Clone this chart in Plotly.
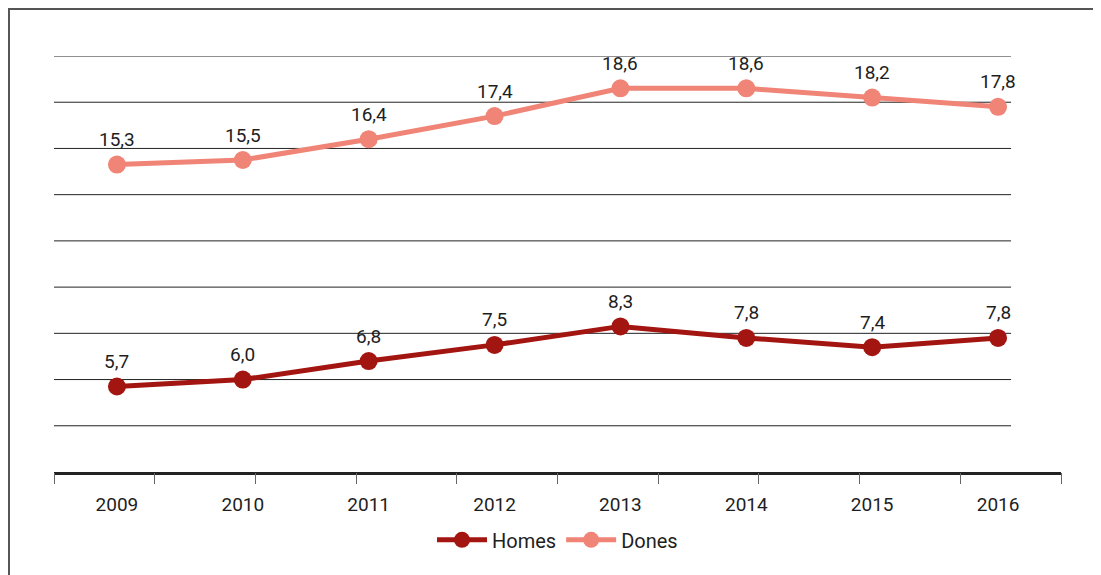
import plotly.graph_objects as go

years = ["2009", "2010", "2011", "2012", "2013", "2014", "2015", "2016"]
homes = [5.7, 6.0, 6.8, 7.5, 8.3, 7.8, 7.4, 7.8]
dones = [15.3, 15.5, 16.4, 17.4, 18.6, 18.6, 18.2, 17.8]
grid_values = [4, 6, 8, 10, 12, 14, 16, 18, 20]
tick_positions = list(range(11))  # evenly spaced axis tick marks (10 intervals)

c_homes = "#A31511"
c_dones = "#F08476"
font_family = "Roboto, 'DejaVu Sans', sans-serif"

fig = go.Figure()
fig.add_trace(go.Scatter(x=years, y=homes, name="Homes", mode="lines+markers",
                         line=dict(color=c_homes, width=5),
                         marker=dict(color=c_homes, size=18), cliponaxis=False))
fig.add_trace(go.Scatter(x=years, y=dones, name="Dones", mode="lines+markers",
                         line=dict(color=c_dones, width=5),
                         marker=dict(color=c_dones, size=18), cliponaxis=False))
# invisible helper trace so the tick-mark axis is rendered
fig.add_trace(go.Scatter(x=[tick_positions[0], tick_positions[-1]], y=[None, None],
                         xaxis="x2", yaxis="y", mode="markers", showlegend=False,
                         hoverinfo="skip", marker=dict(opacity=0)))

annotations = []
for series in (homes, dones):
    for i, v in enumerate(series):
        annotations.append(dict(x=i, y=v, xref="x", yref="y",
                                text=f"{v:.1f}".replace(".", ","),
                                showarrow=False, yshift=25,
                                font=dict(size=19, color="#1e1e1e", family=font_family)))

shapes = []
for g in grid_values:
    shapes.append(dict(type="line", xref="x domain", yref="y", x0=0, x1=0.9504,
                       y0=g, y1=g, line=dict(color="#222222", width=1), layer="below"))
# outer frame
shapes.append(dict(type="rect", xref="paper", yref="paper", x0=-0.0447, x1=1.2,
                   y0=-0.5, y1=1.113, line=dict(color="#555555", width=2), layer="below"))

fig.update_layout(
    width=1101, height=575,
    margin=dict(l=46, r=48, t=48, b=111),
    paper_bgcolor="white", plot_bgcolor="white",
    font=dict(family=font_family, size=19, color="#1e1e1e"),
    showlegend=True,
    legend=dict(orientation="h", x=0.5, xanchor="center", y=-0.163, yanchor="middle",
                font=dict(size=20, color="#1e1e1e"), itemwidth=50,
                tracegroupgap=0),
    xaxis=dict(type="category", range=[-0.5, len(years) - 0.5], autorange=False,
               showgrid=False, zeroline=False, showline=True,
               linecolor="#222222", linewidth=2.5, ticks="", ticklabelstandoff=13,
               tickfont=dict(size=19, color="#1e1e1e")),
    xaxis2=dict(overlaying="x", anchor="y", side="bottom",
                range=[tick_positions[0], tick_positions[-1]], autorange=False,
                tickvals=tick_positions, ticks="outside", ticklen=11,
                tickcolor="#666666", tickwidth=1, showticklabels=False,
                showgrid=False, zeroline=False, showline=False),
    yaxis=dict(range=[2, 20], showgrid=False, zeroline=False, showticklabels=False,
               showline=False),
    annotations=annotations,
    shapes=shapes,
)

fig.write_html("out.html")
